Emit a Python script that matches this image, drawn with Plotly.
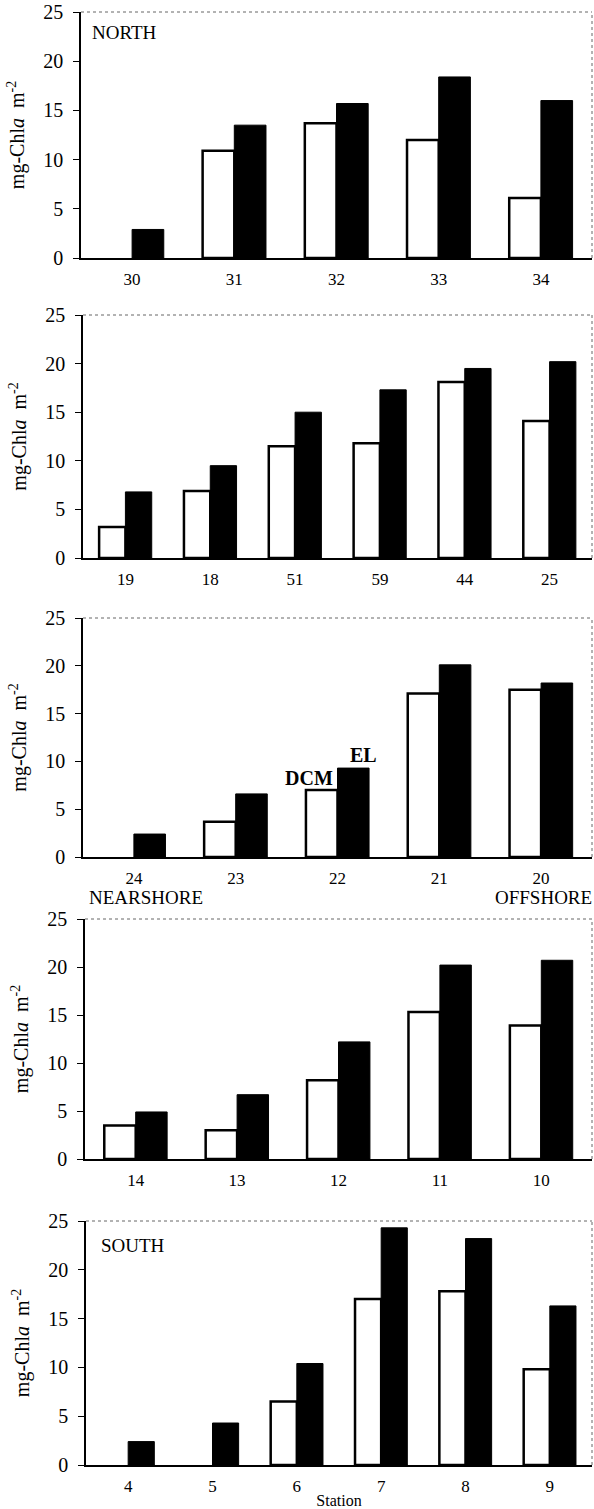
import plotly.graph_objects as go

# ---------------- data ----------------
north_stations = ["30", "31", "32", "33", "34"]
north_dcm = [None, 10.9, 13.7, 12.0, 6.1]
north_el = [2.9, 13.5, 15.7, 18.4, 16.0]

mid_stations = ["19", "18", "51", "59", "44", "25"]
mid_dcm = [3.2, 6.9, 11.5, 11.8, 18.1, 14.1]
mid_el = [6.8, 9.5, 15.0, 17.3, 19.5, 20.2]

c_stations = ["24", "23", "22", "21", "20"]
c_dcm = [None, 3.7, 7.0, 17.1, 17.5]
c_el = [2.4, 6.6, 9.3, 20.1, 18.2]

d_stations = ["14", "13", "12", "11", "10"]
d_dcm = [3.5, 3.0, 8.2, 15.3, 13.9]
d_el = [4.9, 6.7, 12.2, 20.2, 20.7]

south_stations = ["4", "5", "6", "7", "8", "9"]
south_dcm = [None, None, 6.5, 17.0, 17.8, 9.8]
south_el = [2.4, 4.3, 10.4, 24.3, 23.2, 16.3]

y_ticks = [0, 5, 10, 15, 20, 25]

# ---------------- layout ----------------
W, H = 594, 1509
FONT = "Liberation Serif"

panels = [
    dict(st=north_stations, dcm=north_dcm, el=north_el, left=81, top=12, bottom=258),
    dict(st=mid_stations, dcm=mid_dcm, el=mid_el, left=83, top=315, bottom=558),
    dict(st=c_stations, dcm=c_dcm, el=c_el, left=83, top=618, bottom=857),
    dict(st=d_stations, dcm=d_dcm, el=d_el, left=85, top=919, bottom=1159),
    dict(st=south_stations, dcm=south_dcm, el=south_el, left=86, top=1221, bottom=1465),
]
RIGHT = 592

fig = go.Figure()
layout = dict(
    width=W, height=H,
    margin=dict(l=0, r=0, t=0, b=0, pad=0),
    paper_bgcolor="white", plot_bgcolor="white",
    showlegend=False,
    barmode="group", bargap=0.38, bargroupgap=0.0,
    font=dict(family=FONT, color="black"),
)
shapes = []
n = len(panels)
for i, p in enumerate(panels):
    k = i + 1
    xa = "x" if k == 1 else f"x{k}"
    ya = "y" if k == 1 else f"y{k}"
    fig.add_trace(go.Bar(
        x=p["st"], y=p["dcm"], name="DCM", xaxis=xa, yaxis=ya,
        marker=dict(color="white", line=dict(color="black", width=2.5)),
    ))
    fig.add_trace(go.Bar(
        x=p["st"], y=p["el"], name="EL", xaxis=xa, yaxis=ya,
        marker=dict(color="black", line=dict(color="black", width=1)),
    ))
    xdom = [p["left"] / W, RIGHT / W]
    ydom = [1 - p["bottom"] / H, 1 - p["top"] / H]
    layout[f"xaxis{k}"] = dict(
        domain=xdom, anchor=ya, type="category", automargin=False,
        categoryorder="array", categoryarray=p["st"],
        showline=True, linecolor="black", linewidth=1.5,
        ticks="", showgrid=False, zeroline=False,
        tickfont=dict(family=FONT, size=17, color="black"),
        ticklabelstandoff=5,
    )
    layout[f"yaxis{k}"] = dict(
        domain=ydom, anchor=xa, range=[0, 25], tickvals=y_ticks, automargin=False,
        showline=True, linecolor="black", linewidth=1.5,
        ticks="outside", ticklen=6, tickcolor="black", tickwidth=1,
        showgrid=False, zeroline=False,
        tickfont=dict(family=FONT, size=20, color="black"),
        ticklabelstandoff=6,
        title=dict(text="mg-Chl<i>a</i>  m<sup>-2</sup>",
                   font=dict(family=FONT, size=20, color="black"), standoff=13),
    )
    # inside half of the crossing tick marks
    layout[f"yaxis{k + n}"] = dict(
        domain=ydom, anchor=xa, overlaying=ya, range=[0, 25], tickvals=y_ticks,
        automargin=False,
        showline=False, ticks="inside", ticklen=5, tickcolor="black", tickwidth=1,
        showticklabels=False, showgrid=False, zeroline=False,
    )
    # dotted top and right frame
    shapes.append(dict(type="line", xref=f"{xa} domain", yref=f"{ya} domain",
                       x0=0, x1=1, y0=1, y1=1, line=dict(color="#666", width=1, dash="dot")))
    shapes.append(dict(type="line", xref=f"{xa} domain", yref=f"{ya} domain",
                       x0=1, x1=1, y0=0, y1=1, line=dict(color="#666", width=1, dash="dot")))

layout["xaxis5"]["title"] = dict(text="Station", font=dict(family=FONT, size=16, color="black"),
                                 standoff=0)
layout["shapes"] = shapes


def px_ann(text, x, y, xanchor="left", size=19, bold=False):
    return dict(text=f"<b>{text}</b>" if bold else text, x=x / W, y=1 - y / H,
                xref="paper", yref="paper", xanchor=xanchor, yanchor="middle",
                showarrow=False, font=dict(family=FONT, size=size, color="black"))


layout["annotations"] = [
    px_ann("NORTH", 90, 32),
    px_ann("SOUTH", 99, 1245),
    px_ann("DCM", 309, 778, xanchor="center", size=20, bold=True),
    px_ann("EL", 363, 755, xanchor="center", size=20, bold=True),
    px_ann("NEARSHORE", 87, 897),
    px_ann("OFFSHORE", 594, 897, xanchor="right"),
]

fig.update_layout(**layout)
fig.write_html("out.html", config={"displayModeBar": False},
               post_script="document.body.style.margin='0px';")
